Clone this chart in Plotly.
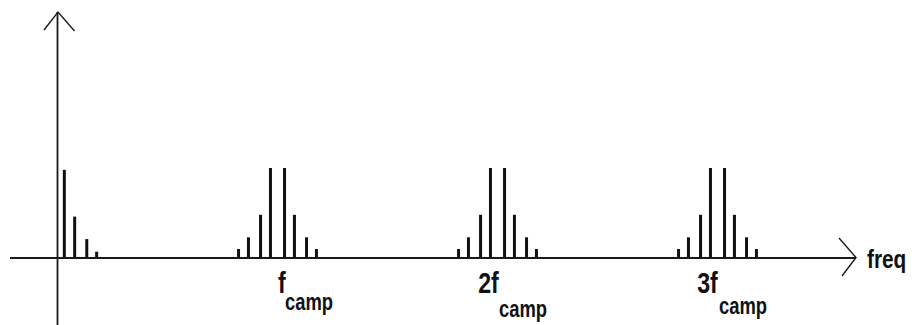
import json
import plotly.graph_objects as go

# Spectrum of a sampled signal: baseband lines plus replicas around multiples of f_camp.
# Frequency in units of f_camp, amplitude in arbitrary units.
baseband_freq = [0.031, 0.078, 0.133, 0.178]
baseband_amp = [0.98, 0.46, 0.21, 0.07]

replica_centers = [1, 2, 3]
sideband_offsets = [0.032, 0.077, 0.132, 0.177]
sideband_amp = [1.0, 0.48, 0.23, 0.10]

replica_labels = ["f", "2f", "3f"]
replica_subscript = "camp"
freq_axis_label = "freq"

# Canvas geometry
W, H = 912, 325
X0_PX, PX_PER_F = 57.5, 220.0   # x pixel of f = 0, pixels per f_camp
Y0_PX, PX_PER_A = 258.0, 90.0   # y pixel of the frequency axis, pixels per amplitude unit


def to_x(px):
    return (px - X0_PX) / PX_PER_F


def to_y(py):
    return (Y0_PX - py) / PX_PER_A


# Build replica lines: mirrored sidebands on each side of k * f_camp
rep_freq, rep_amp = [], []
for c in replica_centers:
    for off, a in zip(sideband_offsets, sideband_amp):
        rep_freq += [c - off, c + off]
        rep_amp += [a, a]

INK = "#111111"
bar_w = 3.0 / PX_PER_F

fig = go.Figure()
fig.add_trace(go.Bar(x=baseband_freq, y=baseband_amp, width=bar_w,
                     marker=dict(color=INK, line_width=0), hoverinfo="skip"))
fig.add_trace(go.Bar(x=rep_freq, y=rep_amp, width=bar_w,
                     marker=dict(color=INK, line_width=0), hoverinfo="skip"))

axis_line = dict(color="#1a1a1a", width=1.8)
head_line = dict(color="#1a1a1a", width=1.4)
shapes = [
    # frequency axis
    dict(type="line", xref="x", yref="y", x0=to_x(10), x1=to_x(856), y0=0, y1=0, line=axis_line),
    # amplitude axis
    dict(type="line", xref="x", yref="y", x0=0, x1=0, y0=to_y(H + 2), y1=to_y(12), line=axis_line),
    # open arrowheads
    dict(type="path", xref="x", yref="y", line=head_line,
         path=f"M {to_x(44)} {to_y(30)} L {to_x(58)} {to_y(12)} L {to_x(74.5)} {to_y(31)}"),
    dict(type="path", xref="x", yref="y", line=head_line,
         path=f"M {to_x(839)} {to_y(238)} L {to_x(856)} {to_y(257.5)} L {to_x(842)} {to_y(276)}"),
]

FONT = "Liberation Sans, Arial, sans-serif"
main_font = dict(family=FONT, size=29, color=INK)
sub_font = dict(family=FONT, size=23, color=INK)

main_xshift = [10, 3, 2]
sub_xshift = [5, -1, -1]
main_ypx = [282.5, 283.0, 283.0]
sub_ypx = [302.0, 308.7, 306.3]

annotations = []
origins = []
for c, lab, mdx, sdx, my, sy in zip(replica_centers, replica_labels, main_xshift, sub_xshift,
                                    main_ypx, sub_ypx):
    annotations.append(dict(x=c, y=to_y(my), xref="x", yref="y", text=f"<b>{lab}</b>",
                            showarrow=False, xanchor="right", yanchor="middle",
                            xshift=mdx, font=main_font))
    origins.append("right")
    annotations.append(dict(x=c, y=to_y(sy), xref="x", yref="y", text=f"<b>{replica_subscript}</b>",
                            showarrow=False, xanchor="left", yanchor="middle",
                            xshift=sdx, font=sub_font))
    origins.append("left")
annotations.append(dict(x=to_x(865), y=to_y(259.3), xref="x", yref="y", text=f"<b>{freq_axis_label}</b>",
                        showarrow=False, xanchor="left", yanchor="middle",
                        font=dict(family=FONT, size=26, color=INK)))
origins.append("left")

fig.update_layout(
    width=W, height=H, autosize=False,
    margin=dict(l=0, r=0, t=0, b=0, pad=0),
    paper_bgcolor="white", plot_bgcolor="white",
    showlegend=False, barmode="overlay",
    xaxis=dict(visible=False, range=[to_x(0), to_x(W)], fixedrange=True),
    yaxis=dict(visible=False, range=[to_y(H), to_y(0)], fixedrange=True),
    shapes=shapes, annotations=annotations,
)

# Narrow the label lettering horizontally (condensed look), keeping each label's anchored edge fixed.
condense_js = """
var gd = document.getElementById('{plot_id}');
var origins = %s;
gd.querySelectorAll('g.annotation').forEach(function (g) {
  var i = +g.getAttribute('data-index');
  var t = g.querySelector('text.annotation-text');
  if (!t) return;
  t.style.transformBox = 'fill-box';
  t.style.transformOrigin = origins[i] + ' center';
  t.style.transform = 'scaleX(0.8)';
});
""" % json.dumps(origins)

fig.write_html("out.html", config={"displayModeBar": False}, post_script=condense_js)
